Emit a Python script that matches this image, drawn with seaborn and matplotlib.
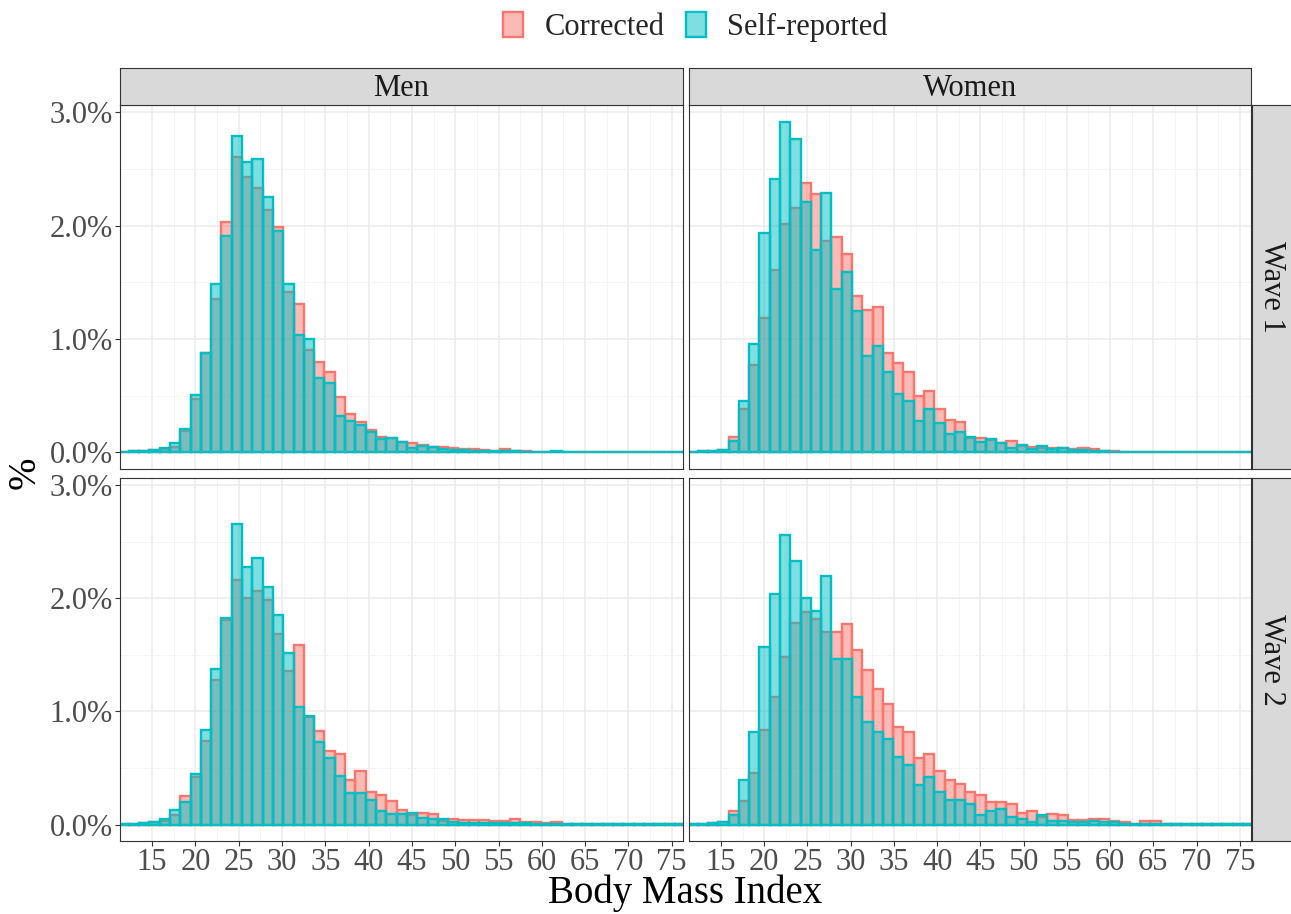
import numpy as np
import pandas as pd
import matplotlib
matplotlib.use("Agg")
import matplotlib.pyplot as plt
from matplotlib.patches import Patch
from matplotlib.ticker import FixedLocator, FuncFormatter
import seaborn as sns

# histogram bin grid (BMI units)
bin_start = 11.11
bin_width = 1.19
n_bins = 55

# percent of respondents per bin
men_w1_corrected = [0.005, 0.01, 0.01, 0.02, 0.03, 0.05, 0.19, 0.47, 0.88, 1.35,
                    2.03, 2.61, 2.43, 2.33, 2.14, 1.99, 1.42, 1.31, 0.90, 0.80,
                    0.71, 0.49, 0.34, 0.27, 0.20, 0.135, 0.13, 0.095, 0.08, 0.07,
                    0.045, 0.047, 0.04, 0.03, 0.03, 0.025, 0.012, 0.03, 0.015, 0.015,
                    0.005, 0.005, 0.008, 0.005, 0.004, 0.004, 0.003, 0.003, 0.003, 0.003,
                    0.003, 0.003, 0.003, 0.003, 0.003]
men_w1_self = [0.005, 0.01, 0.01, 0.02, 0.04, 0.08, 0.21, 0.51, 0.88, 1.49,
               1.91, 2.79, 2.56, 2.59, 2.25, 1.95, 1.49, 1.04, 1.00, 0.66,
               0.61, 0.32, 0.28, 0.24, 0.18, 0.12, 0.13, 0.094, 0.04, 0.06,
               0.05, 0.03, 0.024, 0.018, 0.015, 0.01, 0.01, 0.01, 0.01, 0.008,
               0.005, 0.005, 0.01, 0.006, 0.003, 0.003, 0.003, 0.003, 0.003, 0.003,
               0.003, 0.003, 0.003, 0.003, 0.003]
women_w1_corrected = [0.005, 0.01, 0.015, 0.02, 0.14, 0.38, 0.77, 1.19, 1.61, 2.02,
                      2.16, 2.38, 2.28, 1.87, 1.90, 1.75, 1.38, 1.26, 1.28, 0.88,
                      0.79, 0.71, 0.50, 0.54, 0.38, 0.29, 0.27, 0.13, 0.13, 0.11,
                      0.085, 0.10, 0.06, 0.045, 0.04, 0.04, 0.035, 0.03, 0.04, 0.03,
                      0.015, 0.012, 0.006, 0.004, 0.006, 0.004, 0.003, 0.003, 0.003, 0.003,
                      0.003, 0.003, 0.003, 0.003, 0.003]
women_w1_self = [0.005, 0.01, 0.015, 0.02, 0.10, 0.45, 0.96, 1.94, 2.41, 2.92,
                 2.77, 2.21, 1.79, 2.29, 1.44, 1.59, 1.25, 0.85, 0.94, 0.71,
                 0.52, 0.45, 0.28, 0.38, 0.26, 0.16, 0.18, 0.14, 0.09, 0.12,
                 0.08, 0.04, 0.065, 0.03, 0.06, 0.03, 0.035, 0.02, 0.025, 0.015,
                 0.015, 0.006, 0.005, 0.003, 0.003, 0.003, 0.003, 0.003, 0.003, 0.003,
                 0.003, 0.003, 0.003, 0.003, 0.003]
men_w2_corrected = [0.003, 0.005, 0.01, 0.02, 0.03, 0.08, 0.25, 0.42, 0.74, 1.28,
                    1.81, 2.16, 2.00, 2.07, 1.99, 1.69, 1.36, 1.59, 0.95, 0.83,
                    0.65, 0.62, 0.39, 0.47, 0.29, 0.26, 0.21, 0.13, 0.08, 0.10,
                    0.09, 0.035, 0.05, 0.04, 0.04, 0.04, 0.03, 0.035, 0.05, 0.025,
                    0.02, 0.012, 0.025, 0.005, 0.004, 0.004, 0.003, 0.003, 0.003, 0.003,
                    0.003, 0.003, 0.003, 0.003, 0.003]
men_w2_self = [0.003, 0.005, 0.01, 0.02, 0.045, 0.13, 0.20, 0.45, 0.84, 1.38,
               1.83, 2.66, 2.28, 2.36, 2.10, 1.85, 1.52, 1.04, 0.96, 0.73,
               0.59, 0.43, 0.28, 0.28, 0.22, 0.12, 0.09, 0.09, 0.105, 0.06,
               0.05, 0.05, 0.025, 0.012, 0.01, 0.01, 0.01, 0.01, 0.01, 0.01,
               0.008, 0.008, 0.008, 0.005, 0.004, 0.004, 0.003, 0.003, 0.003, 0.003,
               0.003, 0.003, 0.003, 0.003, 0.003]
women_w2_corrected = [0.003, 0.005, 0.01, 0.02, 0.12, 0.21, 0.46, 0.84, 1.13, 1.48,
                      1.78, 1.88, 1.82, 1.70, 1.70, 1.77, 1.54, 1.37, 1.20, 1.07,
                      0.86, 0.82, 0.59, 0.62, 0.47, 0.39, 0.36, 0.29, 0.26, 0.20,
                      0.20, 0.18, 0.10, 0.12, 0.07, 0.09, 0.08, 0.04, 0.04, 0.05,
                      0.05, 0.035, 0.025, 0.005, 0.035, 0.03, 0.004, 0.003, 0.003, 0.003,
                      0.003, 0.003, 0.003, 0.003, 0.003]
women_w2_self = [0.003, 0.005, 0.01, 0.02, 0.08, 0.39, 0.82, 1.57, 2.04, 2.56,
                 2.33, 2.00, 1.89, 2.20, 1.46, 1.46, 1.13, 0.91, 0.82, 0.76,
                 0.60, 0.53, 0.35, 0.42, 0.29, 0.22, 0.22, 0.18, 0.08, 0.12,
                 0.135, 0.07, 0.05, 0.02, 0.08, 0.035, 0.035, 0.02, 0.02, 0.03,
                 0.02, 0.02, 0.005, 0.003, 0.003, 0.003, 0.003, 0.003, 0.003, 0.003,
                 0.003, 0.003, 0.003, 0.003, 0.003]

sexes = ["Men", "Women"]
waves = ["Wave 1", "Wave 2"]
kinds = ["Corrected", "Self-reported"]
x_ticks = [15, 20, 25, 30, 35, 40, 45, 50, 55, 60, 65, 70, 75]
y_ticks = [0, 1, 2, 3]

series = {
    ("Men", "Wave 1", "Corrected"): men_w1_corrected,
    ("Men", "Wave 1", "Self-reported"): men_w1_self,
    ("Women", "Wave 1", "Corrected"): women_w1_corrected,
    ("Women", "Wave 1", "Self-reported"): women_w1_self,
    ("Men", "Wave 2", "Corrected"): men_w2_corrected,
    ("Men", "Wave 2", "Self-reported"): men_w2_self,
    ("Women", "Wave 2", "Corrected"): women_w2_corrected,
    ("Women", "Wave 2", "Self-reported"): women_w2_self,
}

edges = bin_start + bin_width * np.arange(n_bins + 1)
centers = edges[:-1] + bin_width / 2

frames = []
for (sex, wave, kind), vals in series.items():
    frames.append(pd.DataFrame({"bmi": centers, "pct": vals,
                                "sex": sex, "wave": wave, "kind": kind}))
df = pd.concat(frames, ignore_index=True)

colors = {"Corrected": "#F8766D", "Self-reported": "#00BFC4"}

sns.set_theme(style="white")
plt.rcParams["font.family"] = ["Liberation Serif", "DejaVu Serif"]

W, H = 1291, 914
fig = plt.figure(figsize=(W / 100, H / 100), dpi=100)


def px_axes(x0, y0, x1, y1):
    return fig.add_axes([x0 / W, 1 - y1 / H, (x1 - x0) / W, (y1 - y0) / H])


col_px = [(120, 683), (689, 1251)]
row_px = [(105, 469), (478, 841)]

for r, wave in enumerate(waves):
    for c, sex in enumerate(sexes):
        x0, x1 = col_px[c]
        y0, y1 = row_px[r]
        ax = px_axes(x0, y0, x1, y1)
        ax.set_facecolor("white")
        for kind in kinds:
            sub = df[(df.sex == sex) & (df.wave == wave) & (df.kind == kind)]
            sns.histplot(data=sub, x="bmi", weights="pct", bins=edges.tolist(),
                         color=colors[kind], alpha=0.5, edgecolor=colors[kind],
                         linewidth=1.7, ax=ax)
        ax.set_xlim(11.3, 76.3)
        ax.set_ylim(-0.146, 3.066)
        ax.xaxis.set_major_locator(FixedLocator(x_ticks))
        ax.xaxis.set_minor_locator(FixedLocator(np.array(x_ticks[:-1]) + 2.5))
        ax.yaxis.set_major_locator(FixedLocator(y_ticks))
        ax.yaxis.set_minor_locator(FixedLocator([0.5, 1.5, 2.5]))
        ax.yaxis.set_major_formatter(FuncFormatter(lambda v, p: f"{v:.1f}%"))
        ax.set_axisbelow(True)
        ax.grid(which="major", color="#EBEBEB", linewidth=1.1)
        ax.grid(which="minor", color="#F2F2F2", linewidth=0.6)
        for s in ax.spines.values():
            s.set_color("#333333")
            s.set_linewidth(0.8)
        ax.tick_params(which="major", length=3.5, width=0.8, color="#333333",
                       labelcolor="#4D4D4D", labelsize=22, pad=1.5,
                       bottom=(r == 1), left=(c == 0),
                       labelbottom=(r == 1), labelleft=(c == 0))
        ax.tick_params(which="minor", length=0)
        ax.set_xlabel("")
        ax.set_ylabel("")

        # facet strips
        if r == 0:
            st = px_axes(x0, 68, x1, y0)
            st.set_facecolor("#D9D9D9")
            st.set_xticks([])
            st.set_yticks([])
            for s in st.spines.values():
                s.set_color("#333333")
                s.set_linewidth(0.8)
            st.text(0.5, 0.45, sex, ha="center", va="center", fontsize=22,
                    color="#1A1A1A", transform=st.transAxes)
        if c == 1:
            st = px_axes(1252, y0, 1295, y1)
            st.set_facecolor("#D9D9D9")
            st.set_xticks([])
            st.set_yticks([])
            for s in st.spines.values():
                s.set_color("#333333")
                s.set_linewidth(0.8)
            st.text(0.45, 0.5, wave, ha="center", va="center", fontsize=22,
                    rotation=270, color="#1A1A1A", transform=st.transAxes)

fig.text(685.5 / W, 1 - 893 / H, "Body Mass Index", ha="center", va="center",
         fontsize=28, color="black")
fig.text(25 / W, 1 - 473 / H, "%", ha="center", va="center", rotation=90,
         fontsize=28, color="black")

handles = [Patch(facecolor=matplotlib.colors.to_rgba(colors[k], 0.5),
                 edgecolor=colors[k], linewidth=1.7, label=k) for k in kinds]
fig.legend(handles=handles, loc="center", bbox_to_anchor=(695.5 / W, 1 - 27 / H),
           ncol=2, frameon=False, fontsize=22, handlelength=0.65,
           handleheight=0.9, handletextpad=0.7, columnspacing=0.7)

fig.savefig("out.png", dpi=100)
